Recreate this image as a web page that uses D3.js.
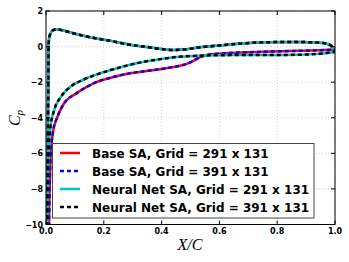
<!DOCTYPE html>
<html><head><meta charset="utf-8">
<script src="https://cdn.jsdelivr.net/npm/d3@7"></script>
<style>body{margin:0;background:#fff}svg{display:block}</style>
</head><body><svg id="c" width="349" height="262"></svg>
<script>
// ---- data ----
const xTicks = [0.0, 0.2, 0.4, 0.6, 0.8, 1.0];
const yTicks = [2, 0, -2, -4, -6, -8, -10];
const seriesNames = ["Base SA, Grid = 291 x 131", "Base SA, Grid = 391 x 131",
                     "Neural Net SA, Grid = 291 x 131", "Neural Net SA, Grid = 391 x 131"];
// pressure side (upper curve in plot)
const xUpper      = [0.004, 0.006, 0.008, 0.009, 0.011, 0.016, 0.025, 0.039, 0.06, 0.108, 0.16, 0.224, 0.291, 0.348, 0.406, 0.44, 0.487, 0.521, 0.579, 0.637, 0.752, 0.867, 0.948, 0.983, 1.0];
const cpUpperBase = [-10.5, -6, -2, 0.0, 0.5, 0.75, 0.92, 0.97, 0.9, 0.69, 0.5, 0.32, 0.1, -0.02, -0.15, -0.19, -0.15, -0.06, 0.03, 0.12, 0.24, 0.26, 0.22, 0.1, -0.17];
const cpUpperNN   = [-10.5, -6, -2, 0.0, 0.5, 0.75, 0.92, 0.97, 0.9, 0.69, 0.5, 0.32, 0.1, -0.02, -0.15, -0.19, -0.15, -0.06, 0.03, 0.12, 0.24, 0.26, 0.22, 0.08, -0.3];
// suction side (lower curve in plot)
const xLowerBase  = [0.010, 0.012, 0.015, 0.019, 0.025, 0.039, 0.062, 0.103, 0.143, 0.166, 0.224, 0.291, 0.348, 0.406, 0.44, 0.463, 0.487, 0.51, 0.53, 0.55, 0.58, 0.637, 0.75, 0.87, 0.95, 1.0];
const cpLowerBase = [-10.5, -8.5, -6.5, -5.5, -4.72, -3.97, -3.2, -2.65, -2.25, -2.05, -1.75, -1.5, -1.37, -1.24, -1.15, -1.08, -0.97, -0.8, -0.62, -0.5, -0.42, -0.36, -0.29, -0.24, -0.2, -0.17];
const xLowerNN    = [0.003, 0.005, 0.009, 0.014, 0.028, 0.051, 0.085, 0.131, 0.166, 0.224, 0.291, 0.348, 0.406, 0.463, 0.521, 0.579, 0.637, 0.75, 0.87, 0.94, 1.0];
const cpLowerNN   = [-10.5, -8.4, -6.0, -4.72, -3.59, -2.84, -2.25, -1.85, -1.62, -1.32, -1.02, -0.83, -0.68, -0.57, -0.52, -0.49, -0.48, -0.48, -0.46, -0.41, -0.3];

const colors = ["#ff0000", "#0000ff", "#00c0c0", "#000000"];
const dashes = [null, "4,3", null, "4,3"];

// ---- layout ----
const svg = d3.select("#c");
const L = 46, R = 335, T = 11, B = 224.5;
const x = d3.scaleLinear().domain([0, 1]).range([L, R]);
const y = d3.scaleLinear().domain([-10, 2]).range([B, T]);

svg.append("defs").append("clipPath").attr("id", "clip")
  .append("rect").attr("x", L).attr("y", T).attr("width", R - L).attr("height", B - T);

// grid
const g = svg.append("g");
xTicks.forEach(t => g.append("line").attr("x1", x(t)).attr("x2", x(t)).attr("y1", T).attr("y2", B)
  .attr("stroke", "#c8c8c8").attr("stroke-width", 0.8).attr("stroke-dasharray", "1,2"));
yTicks.forEach(t => g.append("line").attr("x1", L).attr("x2", R).attr("y1", y(t)).attr("y2", y(t))
  .attr("stroke", "#c8c8c8").attr("stroke-width", 0.8).attr("stroke-dasharray", "1,2"));

// curves
const lineU = d3.line().x(d => x(d[0])).y(d => y(d[1])).curve(d3.curveMonotoneX);
const data = [
  {u: [xUpper, cpUpperBase], l: [xLowerBase, cpLowerBase]},
  {u: [xUpper, cpUpperBase], l: [xLowerBase, cpLowerBase]},
  {u: [xUpper, cpUpperNN], l: [xLowerNN, cpLowerNN]},
  {u: [xUpper, cpUpperNN], l: [xLowerNN, cpLowerNN]}
];
const cg = svg.append("g").attr("clip-path", "url(#clip)");
data.forEach((s, i) => {
  const upper = s.u[0].map((v, k) => [v, s.u[1][k]]);
  const lower = s.l[0].map((v, k) => [v, s.l[1][k]]);
  [upper, lower].forEach(pts => {
    cg.append("path").attr("d", lineU(pts)).attr("fill", "none")
      .attr("stroke", colors[i]).attr("stroke-width", 2.5)
      .attr("stroke-dasharray", dashes[i]).attr("stroke-linejoin", "round");
  });
});

// frame
svg.append("rect").attr("x", L).attr("y", T).attr("width", R - L).attr("height", B - T)
  .attr("fill", "none").attr("stroke", "#000").attr("stroke-width", 1);

// ticks (inside)
xTicks.forEach(t => {
  svg.append("line").attr("x1", x(t)).attr("x2", x(t)).attr("y1", B).attr("y2", B - 4).attr("stroke", "#000");
  svg.append("line").attr("x1", x(t)).attr("x2", x(t)).attr("y1", T).attr("y2", T + 4).attr("stroke", "#000");
  svg.append("text").attr("x", x(t)).attr("y", B + 9).attr("text-anchor", "middle")
    .attr("font-family", "DejaVu Sans").attr("font-weight", "bold").attr("font-size", 8)
    .text(t.toFixed(1));
});
yTicks.forEach(t => {
  svg.append("line").attr("x1", L).attr("x2", L + 4).attr("y1", y(t)).attr("y2", y(t)).attr("stroke", "#000");
  svg.append("line").attr("x1", R).attr("x2", R - 4).attr("y1", y(t)).attr("y2", y(t)).attr("stroke", "#000");
  svg.append("text").attr("x", L - 3).attr("y", y(t) + 3).attr("text-anchor", "end")
    .attr("font-family", "DejaVu Sans").attr("font-weight", "bold").attr("font-size", 8)
    .text(t < 0 ? "\u2212" + Math.abs(t) : String(t));
});

// axis labels
const xl = svg.append("text").attr("x", 190).attr("y", 250).attr("text-anchor", "middle")
  .attr("font-family", "Liberation Serif").attr("font-style", "italic").attr("font-size", 16);
xl.text("X/C");
const yl = svg.append("text").attr("transform", "translate(20,118) rotate(-90)").attr("text-anchor", "middle")
  .attr("font-family", "Liberation Serif").attr("font-style", "italic").attr("font-size", 16);
yl.append("tspan").text("C");
yl.append("tspan").attr("font-size", 11).attr("dy", 3).text("p");

// legend
const lg = svg.append("g");
lg.append("rect").attr("x", 52.5).attr("y", 143.5).attr("width", 261.5).attr("height", 74.5)
  .attr("fill", "#fff").attr("stroke", "#444").attr("stroke-width", 1);
const rowsY = [153, 171, 189, 207];
seriesNames.forEach((n, i) => {
  lg.append("line").attr("x1", 60).attr("x2", 80).attr("y1", rowsY[i]).attr("y2", rowsY[i])
    .attr("stroke", colors[i]).attr("stroke-width", 2.5).attr("stroke-dasharray", dashes[i]);
  lg.append("text").attr("x", 92).attr("y", rowsY[i] + 4.5)
    .attr("font-family", "DejaVu Sans").attr("font-weight", "bold").attr("font-size", 12)
    .text(n);
});
</script></body></html>
